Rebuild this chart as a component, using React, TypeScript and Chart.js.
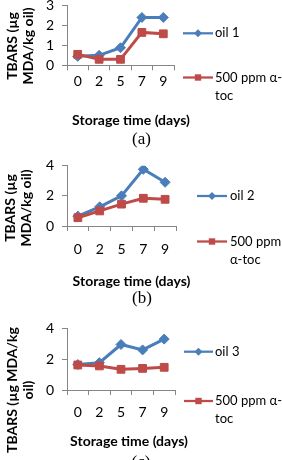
import React, { useEffect, useRef } from "react";
import { Chart, registerables } from "chart.js";

Chart.register(...registerables);

// ---------- data ----------
const days = ["0", "2", "5", "7", "9"];

const oil1 = [0.45, 0.5, 0.88, 2.4, 2.4];
const toc1 = [0.55, 0.3, 0.3, 1.65, 1.58];

const oil2 = [0.65, 1.27, 2.0, 3.76, 2.9];
const toc2 = [0.55, 1.0, 1.45, 1.84, 1.77];

const oil3 = [1.65, 1.77, 2.95, 2.6, 3.3];
const toc3 = [1.62, 1.56, 1.34, 1.4, 1.47];

const legendA = [["oil 1"], ["500 ppm α-", "toc"]];
const legendB = [["oil 2"], ["500 ppm", "α-toc"]];
const legendC = [["oil 3"], ["500 ppm α-", "toc"]];

const yTitleAB = ["TBARS (µg", "MDA/kg oil)"];
const yTitleC = ["TBARS (µg MDA/kg", "oil)"];
const xTitle = "Storage time (days)";
const captions = ["(a)", "(b)", "(c)"];

const yMaxA = 3;
const yStepA = 1;
const yMaxBC = 4;
const yStepBC = 2;

// ---------- style / layout ----------
const OFF = 20;
const W = 282;
const H = 460 + OFF;
const AXIS = "#868686";
const BLUE = "#4A7EBB";
const RED = "#BE4B48";
const FONT = "Lato, 'Open Sans', sans-serif";
const SERIF = "'Liberation Serif', 'Times New Roman', serif";

type Cfg = {
  oil: number[];
  toc: number[];
  legend: string[][];
  yTitle: string[];
  caption: string;
  yMax: number;
  yStep: number;
  xLeft: number;
  xRight: number;
  yTop: number;
  yZero: number;
  tickPad: number;
  yTitleX: number;
  yTitleY: number;
  xTitleX: number;
  xTitleY: number;
  capX: number;
  capY: number;
  legX1: number;
  legX2: number;
  legTextX: number;
  legY: number[];
};

const panels: Cfg[] = [
  {
    oil: oil1, toc: toc1, legend: legendA, yTitle: yTitleAB, caption: captions[0],
    yMax: yMaxA, yStep: yStepA,
    xLeft: 67, xRight: 174, yTop: 5.5, yZero: 65.3, tickPad: 2.5,
    yTitleX: 12.5, yTitleY: 46, xTitleX: 131, xTitleY: 120, capX: 141.5, capY: 140,
    legX1: 183, legX2: 213, legTextX: 215, legY: [33.3, 77.5],
  },
  {
    oil: oil2, toc: toc2, legend: legendB, yTitle: yTitleAB, caption: captions[1],
    yMax: yMaxBC, yStep: yStepBC,
    xLeft: 67, xRight: 176, yTop: 165.7, yZero: 226, tickPad: 10.5,
    yTitleX: 10.5, yTitleY: 208, xTitleX: 131.5, xTitleY: 281, capX: 142, capY: 299,
    legX1: 197, legX2: 227, legTextX: 230, legY: [196, 241.5],
  },
  {
    oil: oil3, toc: toc3, legend: legendC, yTitle: yTitleC, caption: captions[2],
    yMax: yMaxBC, yStep: yStepBC,
    xLeft: 67, xRight: 175, yTop: 328.3, yZero: 390, tickPad: 9.5,
    yTitleX: 12.5, yTitleY: 390, xTitleX: 129, xTitleY: 441.7, capX: 141, capY: 463,
    legX1: 184, legX2: 213, legTextX: 215, legY: [351.7, 401],
  },
];

const XH = 40;

function Panel({ cfg }: { cfg: Cfg }) {
  const ref = useRef<HTMLCanvasElement | null>(null);

  useEffect(() => {
    const c = cfg;
    const textPlugin = {
      id: "panelTexts",
      afterDraw(chart: any) {
        const ctx = chart.ctx as CanvasRenderingContext2D;
        ctx.save();
        // legend
        const colors = [BLUE, RED];
        c.legend.forEach((lines, i) => {
          const y = c.legY[i] + OFF;
          ctx.strokeStyle = colors[i];
          ctx.lineWidth = 2.25;
          ctx.beginPath();
          ctx.moveTo(c.legX1, y);
          ctx.lineTo(c.legX2, y);
          ctx.stroke();
          const mx = (c.legX1 + c.legX2) / 2;
          ctx.fillStyle = colors[i];
          ctx.beginPath();
          if (i === 0) {
            const r = 4;
            ctx.moveTo(mx, y - r);
            ctx.lineTo(mx + r, y);
            ctx.lineTo(mx, y + r);
            ctx.lineTo(mx - r, y);
            ctx.closePath();
          } else {
            const s = 3.2;
            ctx.rect(mx - s, y - s, 2 * s, 2 * s);
          }
          ctx.fill();
          ctx.fillStyle = "#000";
          ctx.font = `13px ${FONT}`;
          ctx.textAlign = "left";
          ctx.textBaseline = "middle";
          lines.forEach((t, k) => ctx.fillText(t, c.legTextX, y + k * 18));
        });
        // y title
        ctx.fillStyle = "#000";
        ctx.font = `bold 14px ${FONT}`;
        ctx.textAlign = "center";
        ctx.textBaseline = "middle";
        ctx.save();
        ctx.translate(c.yTitleX, c.yTitleY + OFF);
        ctx.rotate(-Math.PI / 2);
        c.yTitle.forEach((t, k) => ctx.fillText(t, 0, k * 16));
        ctx.restore();
        // x title
        ctx.fillText(xTitle, c.xTitleX, c.xTitleY + OFF);
        // caption
        ctx.font = `17px ${SERIF}`;
        ctx.fillText(c.caption, c.capX, c.capY + OFF);
        ctx.restore();
      },
    };

    const chart = new Chart(ref.current as HTMLCanvasElement, {
      type: "line",
      data: {
        labels: days,
        datasets: [
          {
            label: c.legend[0].join(" "),
            data: c.oil,
            borderColor: BLUE,
            backgroundColor: BLUE,
            borderWidth: 3,
            pointStyle: "rectRot",
            pointRadius: 5,
            pointBorderWidth: 1,
            tension: 0,
            order: 1,
          },
          {
            label: c.legend[1].join(""),
            data: c.toc,
            borderColor: RED,
            backgroundColor: RED,
            borderWidth: 3,
            pointStyle: "rect",
            pointRadius: 5.5,
            pointBorderWidth: 1,
            tension: 0,
            order: 0,
          },
        ],
      },
      options: {
        responsive: false,
        animation: false,
        devicePixelRatio: 1,
        layout: {
          padding: {
            left: 0,
            top: c.yTop + OFF,
            right: W - c.xRight,
            bottom: H - (c.yZero + OFF) - XH,
          },
        },
        plugins: {
          legend: { display: false },
          tooltip: { enabled: false },
        },
        scales: {
          x: {
            type: "category",
            offset: true,
            grid: {
              offset: true,
              drawOnChartArea: false,
              drawTicks: true,
              tickLength: 5,
              color: AXIS,
            },
            border: { color: AXIS, width: 1 },
            ticks: {
              padding: c.tickPad,
              color: "#000",
              font: { family: FONT, size: 14 },
              maxRotation: 0,
              autoSkip: false,
            },
            afterFit: (s: any) => {
              s.height = XH;
            },
          },
          y: {
            type: "linear",
            min: 0,
            max: c.yMax,
            grid: {
              drawOnChartArea: false,
              drawTicks: true,
              tickLength: 5,
              color: AXIS,
            },
            border: { color: AXIS, width: 1 },
            ticks: {
              stepSize: c.yStep,
              padding: 8,
              color: "#000",
              font: { family: FONT, size: 14 },
            },
            afterFit: (s: any) => {
              s.width = c.xLeft;
            },
          },
        },
      },
      plugins: [textPlugin],
    } as any);

    return () => chart.destroy();
  }, [cfg]);

  return (
    <canvas
      ref={ref}
      width={W}
      height={H}
      style={{ position: "absolute", left: 0, top: -OFF, width: W, height: H }}
    />
  );
}

export default function App() {
  return (
    <div
      style={{
        position: "fixed",
        left: 0,
        top: 0,
        width: W,
        height: 460,
        overflow: "hidden",
        background: "#fff",
      }}
    >
      {panels.map((p, i) => (
        <Panel key={i} cfg={p} />
      ))}
    </div>
  );
}
